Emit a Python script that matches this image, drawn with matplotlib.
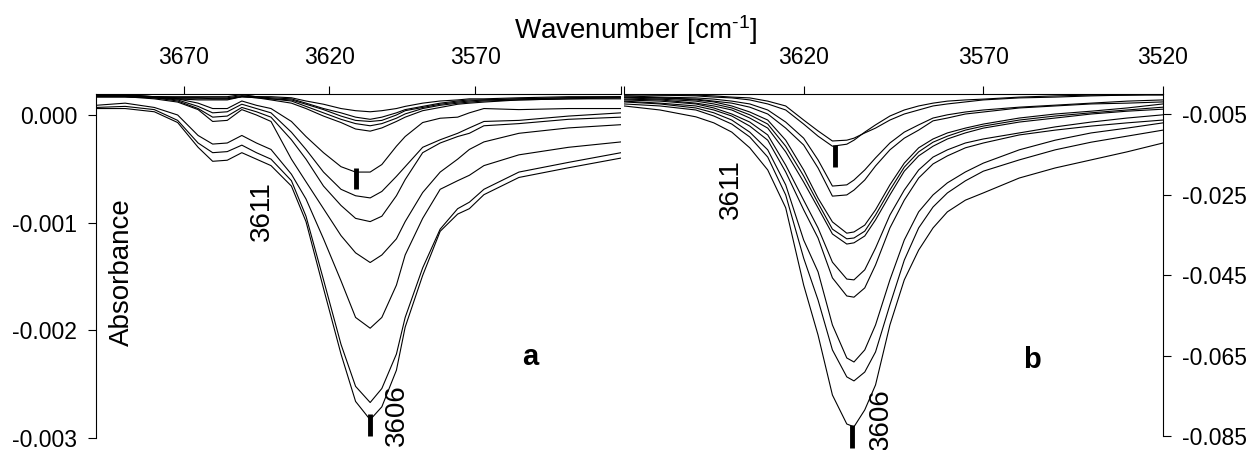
import numpy as np
import matplotlib
matplotlib.use("Agg")
import matplotlib.pyplot as plt

# Panel a: wavenumber grid [cm-1] and absorbance spectra (x 1e-3)
wn_a = [3700, 3690, 3680, 3672, 3665, 3660, 3655, 3650, 3645, 3640, 3633, 3628, 3622,
        3616, 3611, 3606, 3602, 3597, 3594, 3588, 3582, 3576, 3572, 3567, 3555, 3538, 3520]
spectra_a = [
    [0.19, 0.19, 0.17, 0.17, 0.17, 0.17, 0.17, 0.19, 0.17, 0.17, 0.16, 0.13, 0.10, 0.06,
     0.04, 0.03, 0.04, 0.06, 0.08, 0.11, 0.13, 0.14, 0.15, 0.15, 0.16, 0.17, 0.17],
    [0.18, 0.18, 0.17, 0.16, 0.16, 0.16, 0.16, 0.18, 0.17, 0.16, 0.15, 0.11, 0.06, 0.02,
     -0.02, -0.04, -0.02, 0.02, 0.05, 0.08, 0.11, 0.13, 0.14, 0.14, 0.15, 0.16, 0.17],
    [0.18, 0.18, 0.17, 0.16, 0.16, 0.15, 0.15, 0.17, 0.17, 0.15, 0.14, 0.10, 0.05, -0.01,
     -0.05, -0.06, -0.05, 0.00, 0.04, 0.07, 0.10, 0.12, 0.13, 0.14, 0.15, 0.16, 0.16],
    [0.17, 0.17, 0.17, 0.15, 0.15, 0.15, 0.15, 0.17, 0.16, 0.15, 0.13, 0.08, 0.02, -0.04,
     -0.08, -0.10, -0.08, -0.03, 0.01, 0.06, 0.09, 0.11, 0.12, 0.13, 0.14, 0.15, 0.16],
    [0.17, 0.17, 0.16, 0.15, 0.14, 0.14, 0.14, 0.17, 0.16, 0.14, 0.11, 0.06, -0.01, -0.07,
     -0.13, -0.15, -0.12, -0.06, -0.02, 0.04, 0.07, 0.10, 0.11, 0.12, 0.14, 0.15, 0.15],
    [0.18, 0.18, 0.17, 0.15, 0.11, 0.06, 0.06, 0.13, 0.09, 0.06, -0.06, -0.20, -0.35, -0.48,
     -0.53, -0.53, -0.46, -0.29, -0.20, -0.07, -0.03, -0.02, 0.02, 0.06, 0.05, 0.06, 0.06],
    [0.17, 0.17, 0.16, 0.14, 0.08, 0.02, 0.03, 0.10, 0.06, 0.02, -0.16, -0.32, -0.53, -0.69,
     -0.75, -0.77, -0.71, -0.57, -0.48, -0.30, -0.23, -0.17, -0.12, -0.06, -0.05, -0.01, 0.02],
    [0.17, 0.17, 0.16, 0.13, 0.06, -0.02, -0.01, 0.07, 0.03, -0.02, -0.23, -0.41, -0.66, -0.84,
     -0.96, -0.99, -0.94, -0.75, -0.60, -0.35, -0.26, -0.20, -0.17, -0.10, -0.08, -0.04, -0.02],
    [0.17, 0.17, 0.15, 0.12, 0.05, -0.06, -0.05, 0.05, 0.00, -0.06, -0.41, -0.62, -0.87, -1.12,
     -1.28, -1.37, -1.30, -1.15, -0.99, -0.72, -0.53, -0.41, -0.32, -0.25, -0.17, -0.12, -0.09],
    [0.09, 0.11, 0.07, 0.00, -0.19, -0.27, -0.26, -0.19, -0.26, -0.32, -0.55, -0.78, -1.15, -1.54,
     -1.88, -1.98, -1.88, -1.58, -1.30, -0.96, -0.69, -0.61, -0.56, -0.47, -0.37, -0.30, -0.25],
    [0.07, 0.08, 0.05, -0.05, -0.26, -0.35, -0.34, -0.28, -0.35, -0.41, -0.61, -0.94, -1.53, -2.13,
     -2.52, -2.67, -2.54, -2.22, -1.88, -1.42, -1.06, -0.87, -0.81, -0.69, -0.53, -0.44, -0.35],
    [0.06, 0.06, 0.03, -0.07, -0.30, -0.43, -0.42, -0.35, -0.41, -0.47, -0.66, -0.99, -1.61, -2.22,
     -2.66, -2.83, -2.71, -2.37, -1.97, -1.49, -1.08, -0.92, -0.87, -0.74, -0.58, -0.49, -0.40],
]

# Panel b: wavenumber grid [cm-1] and absorbance spectra (x 1e-3)
wn_b = [3670, 3660, 3650, 3645, 3640, 3635, 3630, 3625, 3620, 3616, 3612, 3608, 3606,
        3603, 3600, 3596, 3592, 3588, 3584, 3580, 3575, 3570, 3560, 3550, 3540, 3530, 3520]
spectra_b = [
    [-0.0, -0.3, -0.3, -0.5, -0.8, -1.0, -1.8, -3.0, -6.5, -9.2, -11.7, -11.5, -11.0,
     -9.7, -8.5, -6.5, -5.0, -4.0, -3.0, -2.5, -2.0, -1.5, -1.0, -0.8, -0.5, -0.3, -0.3],
    [-0.3, -0.3, -0.5, -0.8, -1.0, -1.5, -2.5, -4.0, -7.5, -10.5, -13.0, -12.5, -11.5,
     -9.5, -7.7, -5.5, -4.0, -3.0, -2.3, -1.8, -1.5, -1.3, -0.8, -0.5, -0.3, -0.3, -0.0],
    [-0.5, -0.8, -1.0, -1.3, -1.8, -2.5, -4.0, -7.0, -11.0, -16.4, -22.9, -22.6, -21.4,
     -18.9, -15.9, -12.2, -9.5, -7.7, -6.0, -5.2, -4.5, -4.0, -3.3, -2.8, -2.3, -1.8, -1.5],
    [-0.8, -1.0, -1.3, -1.8, -2.3, -3.3, -5.0, -8.5, -12.7, -18.4, -25.4, -25.1, -23.9,
     -21.4, -17.9, -13.9, -11.0, -9.0, -6.7, -6.0, -5.0, -4.5, -3.5, -3.0, -2.5, -2.3, -2.0],
    [-0.8, -1.0, -1.5, -2.0, -3.0, -4.5, -6.5, -11.5, -18.9, -25.9, -31.8, -34.6, -34.3,
     -32.6, -28.8, -22.6, -17.2, -13.4, -11.2, -9.7, -8.5, -7.5, -6.0, -5.0, -4.3, -3.5, -2.5],
    [-1.0, -1.3, -1.8, -2.5, -3.5, -5.2, -7.5, -13.0, -20.4, -27.1, -33.6, -36.0, -35.8,
     -34.1, -30.1, -23.9, -18.2, -14.4, -12.0, -10.5, -9.0, -8.0, -6.5, -5.5, -4.7, -4.0, -3.3],
    [-1.3, -1.5, -2.3, -3.0, -4.0, -6.0, -8.5, -14.4, -21.9, -28.3, -34.8, -37.3, -37.0,
     -35.3, -31.3, -25.1, -19.2, -15.4, -13.0, -11.2, -9.7, -8.5, -7.0, -6.0, -5.0, -4.3, -3.8],
    [-1.5, -1.8, -2.5, -3.5, -5.0, -7.0, -10.2, -17.7, -26.4, -33.3, -41.8, -46.0, -46.2,
     -43.7, -38.3, -30.1, -23.9, -18.9, -15.7, -13.9, -12.2, -11.2, -9.7, -8.2, -7.0, -6.0, -5.2],
    [-1.8, -2.3, -3.0, -4.0, -5.5, -8.0, -11.5, -19.4, -28.8, -35.8, -45.7, -50.2, -50.5,
     -48.2, -42.5, -33.3, -26.4, -20.9, -17.4, -15.4, -13.4, -12.2, -10.2, -9.0, -8.0, -7.2, -6.5],
    [-2.0, -2.5, -3.5, -4.7, -6.5, -9.5, -13.9, -22.6, -36.3, -44.2, -57.4, -65.6, -66.6,
     -63.6, -57.4, -46.2, -36.3, -29.3, -25.1, -22.1, -19.4, -17.2, -13.9, -11.5, -9.7, -8.5, -7.2],
    [-2.5, -3.0, -4.0, -5.5, -7.5, -10.7, -15.7, -25.1, -40.8, -51.2, -63.6, -70.3, -71.3,
     -69.1, -64.1, -52.4, -41.3, -33.3, -28.1, -24.6, -21.6, -19.2, -16.4, -13.9, -12.0, -10.5, -9.0],
    [-3.0, -4.0, -5.7, -7.2, -9.5, -13.4, -18.9, -28.3, -47.5, -59.9, -74.8, -82.0, -82.7,
     -78.5, -72.3, -57.4, -46.2, -38.8, -33.3, -29.3, -26.4, -24.6, -20.9, -18.4, -16.4, -14.4, -12.2],
]

ticks_a = [3670, 3620, 3570, 3520]
tick_labels_a = ["3670", "3620", "3570", ""]
ticks_b = [3670, 3620, 3570, 3520]
tick_labels_b = ["", "3620", "3570", "3520"]
yticks_a = [0.0, -0.001, -0.002, -0.003]
yticks_b = [-0.005, -0.025, -0.045, -0.065, -0.085]

plt.rcParams["font.family"] = ["Liberation Sans", "DejaVu Sans"]
plt.rcParams["axes.unicode_minus"] = False
plt.rcParams["mathtext.fontset"] = "custom"
plt.rcParams["mathtext.rm"] = "Liberation Sans"
plt.rcParams["mathtext.it"] = "Liberation Sans:italic"

W, H = 1252, 450
fig = plt.figure(figsize=(W / 100, H / 100), dpi=100)
ax_a = fig.add_axes([96 / W, 0, 525 / W, 356 / H])
ax_b = fig.add_axes([624 / W, 0, 539 / W, 356 / H])


def style(ax, yside):
    for side in ("bottom", "left", "right"):
        ax.spines[side].set_visible(side == yside)
    for sp in ax.spines.values():
        sp.set_linewidth(0.8)
    ax.xaxis.tick_top()
    ax.tick_params(axis="x", direction="out", length=6, width=0.8, pad=12, labelsize=16.5)
    if yside == "right":
        ax.yaxis.tick_right()
    ax.tick_params(axis="y", direction="out", length=6, width=0.8, pad=7.5, labelsize=16.5)


# panel a
for s in spectra_a:
    ax_a.plot(wn_a, np.array(s) * 1e-3, color="black", lw=0.8)
ax_a.set_xlim(3700, 3520)
ax_a.set_ylim(-3.111e-3, 0.195e-3)
style(ax_a, "left")
ax_a.spines["left"].set_bounds(-0.003, 0.195e-3)
ax_a.set_xticks(ticks_a, tick_labels_a)
ax_a.set_yticks(yticks_a, [f"{v:.3f}" for v in yticks_a])

# panel b
for s in spectra_b:
    ax_b.plot(wn_b, np.array(s) * 1e-3, color="black", lw=0.8)
ax_b.set_xlim(3670, 3520)
ax_b.set_ylim(-88.46e-3, -0.03e-3)
style(ax_b, "right")
ax_b.spines["right"].set_bounds(-0.085, -0.03e-3)
ax_b.set_xticks(ticks_b, tick_labels_b)
ax_b.set_yticks(yticks_b, [f"{v:.3f}" for v in yticks_b])

# peak position marks and labels
ax_a.plot([3610.7, 3610.7], [-0.49e-3, -0.69e-3], color="black", lw=3.5, solid_capstyle="butt")
ax_a.plot([3606.1, 3606.1], [-2.78e-3, -2.98e-3], color="black", lw=3.5, solid_capstyle="butt")
ax_b.plot([3611.3, 3611.3], [-12.7e-3, -18.2e-3], color="black", lw=3.5, solid_capstyle="butt")
ax_b.plot([3606.5, 3606.5], [-82.3e-3, -88.0e-3], color="black", lw=3.5, solid_capstyle="butt",
          clip_on=False)

ax_a.text(3643.1, -0.89e-3, "3611", rotation=90, ha="center", va="center", fontsize=20)
ax_b.text(3640.2, -23.6e-3, "3611", rotation=90, ha="center", va="center", fontsize=20)
ax_a.text(3596.8, -2.79e-3, "3606", rotation=90, ha="center", va="center", fontsize=20,
          clip_on=False)
ax_b.text(3598.5, -80.8e-3, "3606", rotation=90, ha="center", va="center", fontsize=20,
          clip_on=False)
ax_a.text(3551.2, -2.25e-3, "a", ha="center", va="center", fontsize=21, fontweight="bold")
ax_b.text(3556.4, -66.1e-3, "b", ha="center", va="center", fontsize=21, fontweight="bold")

ax_a.text(0.05, 0.5, "Absorbance", rotation=90, ha="center", va="center", fontsize=20,
          transform=ax_a.transAxes)
fig.text(636 / W, 1 - 30 / H, r"Wavenumber [cm$^{\text{-}1}$]", ha="center", va="center",
         fontsize=20)

fig.savefig("out.png", dpi=100)
